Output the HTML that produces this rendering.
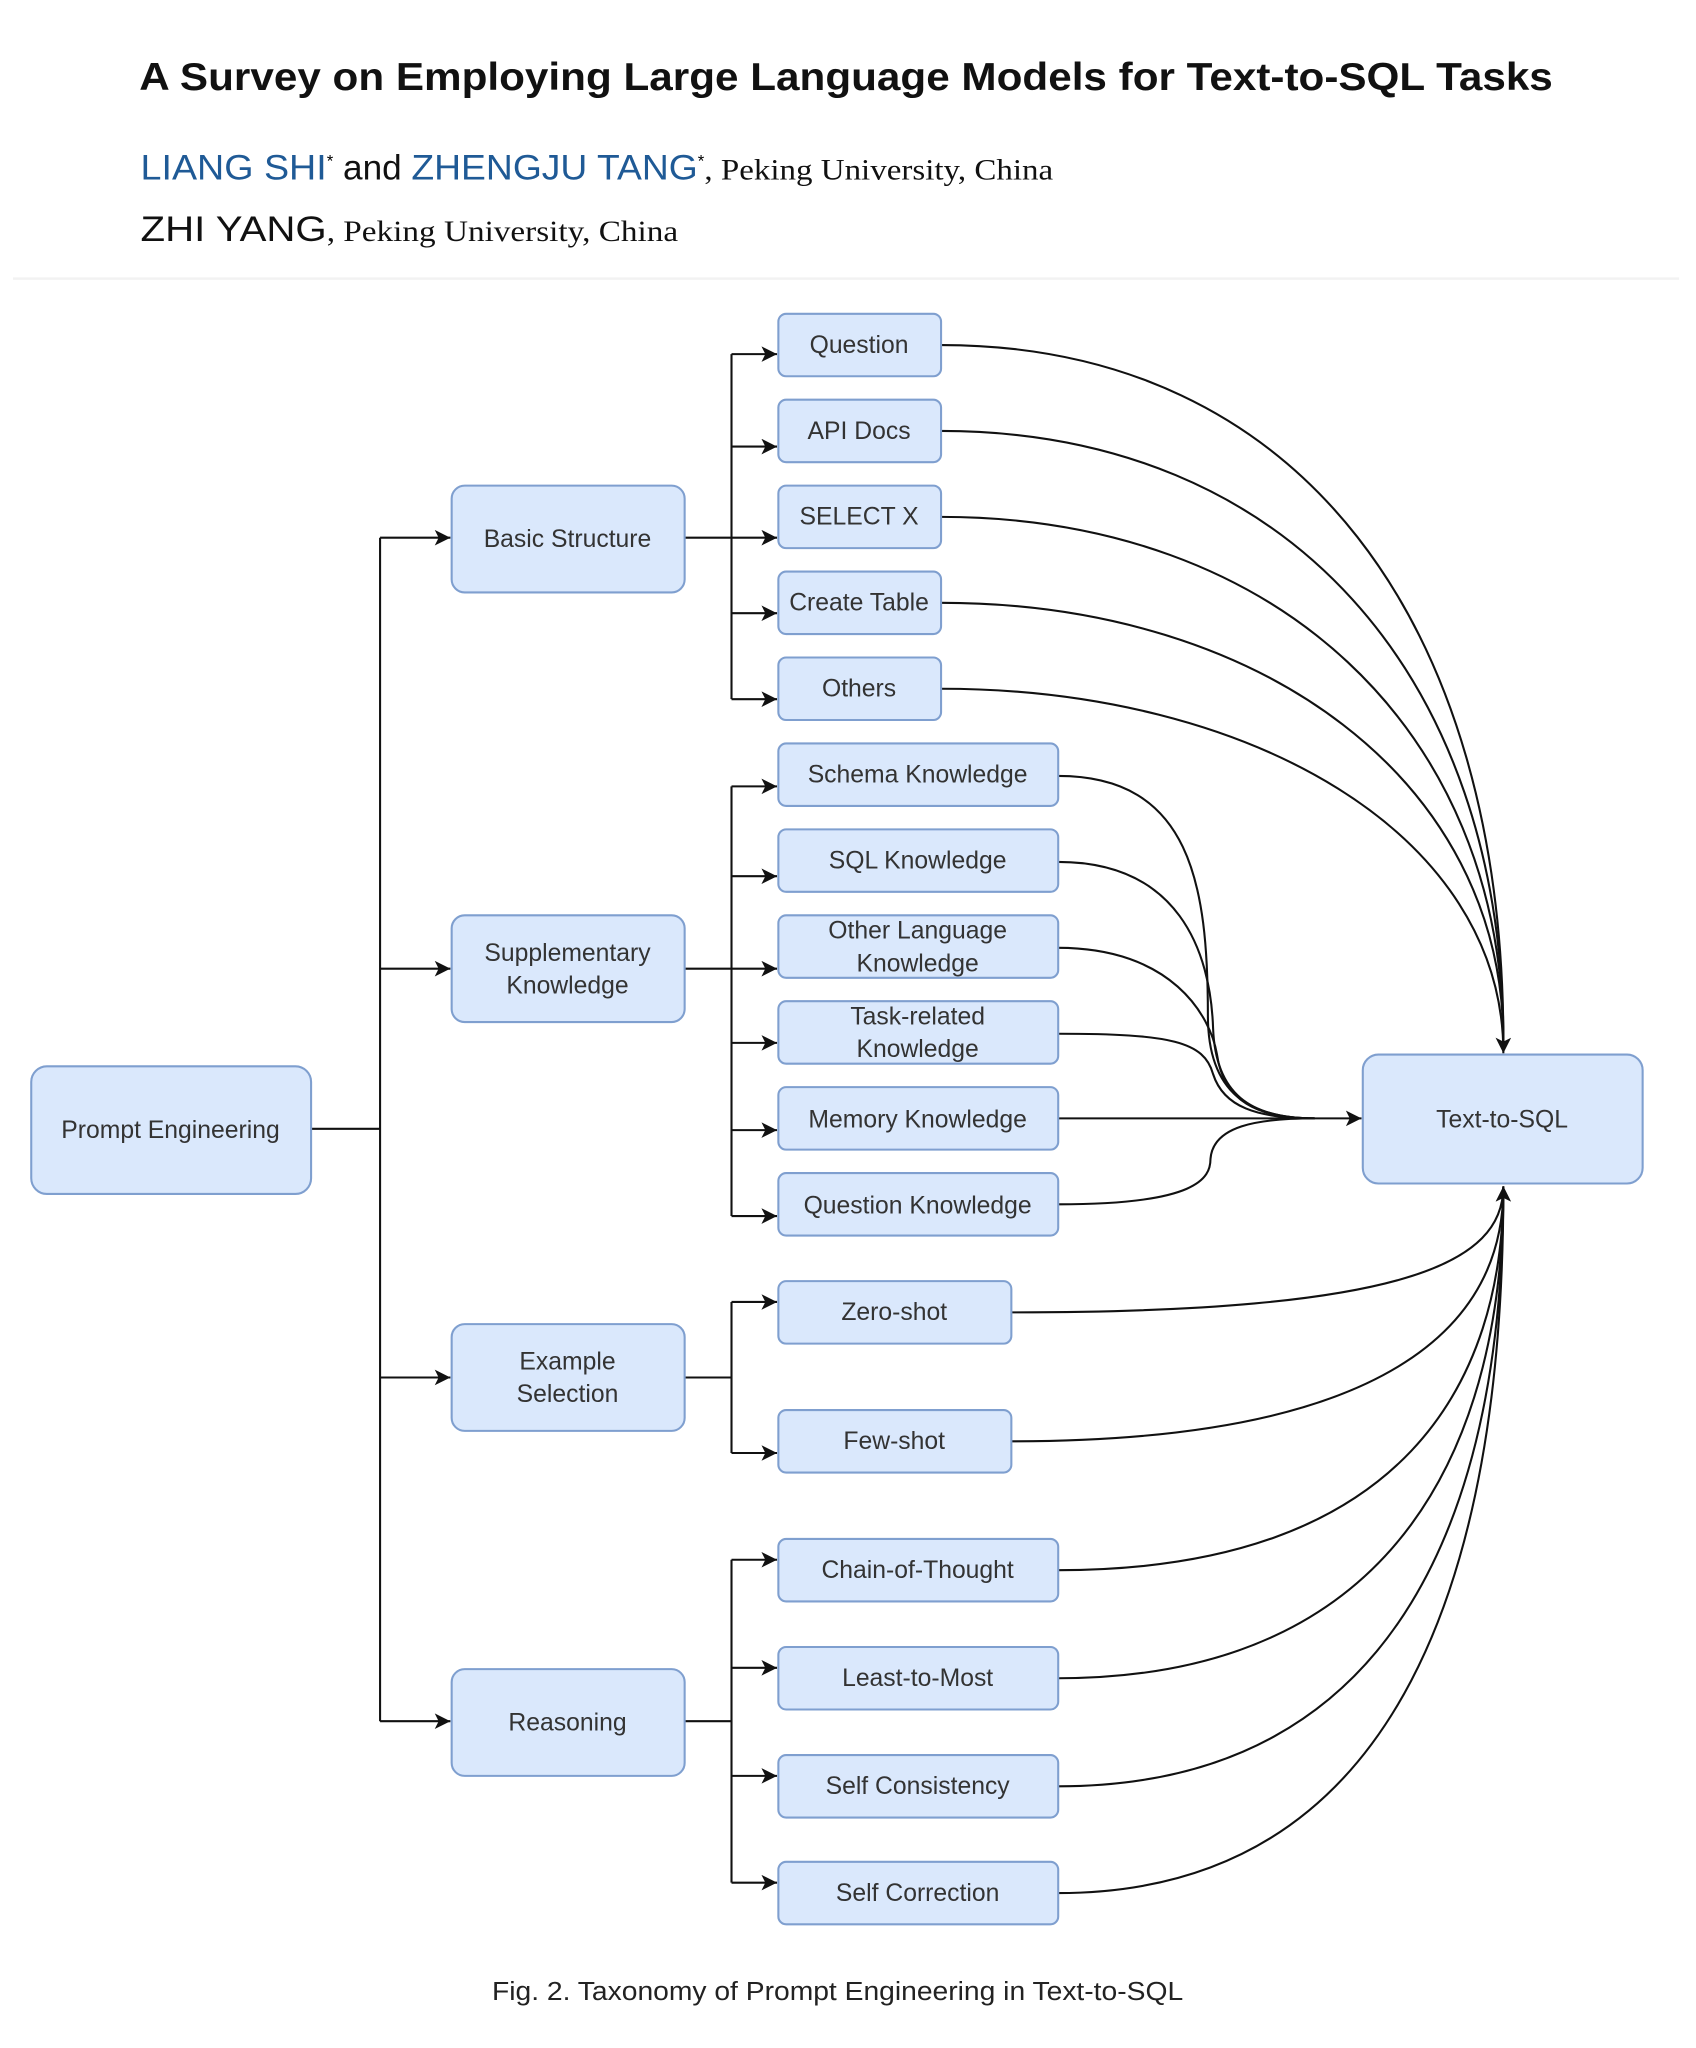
<!DOCTYPE html>
<html><head><meta charset="utf-8"><style>
html,body{margin:0;padding:0;background:#fff;}
svg{display:block;}
.b{fill:#dae8fc;stroke:#7f9fcf;stroke-width:1.6;}
.t{font-family:"Liberation Sans",sans-serif;font-size:19px;fill:#333;text-anchor:middle;}
.l{fill:none;stroke:#111;stroke-width:1.6;}
</style></head><body>
<svg width="1696" height="2048" viewBox="0 0 1303 1573" preserveAspectRatio="none" xmlns="http://www.w3.org/2000/svg">
<defs><marker id="a" markerWidth="14" markerHeight="14" refX="12" refY="6" orient="auto" markerUnits="userSpaceOnUse"><path d="M0,0 L12,6 L0,12 L3,6 z" fill="#111"/></marker></defs>
<text x="107" y="69" font-family="Liberation Sans,sans-serif" font-size="30" font-weight="bold" fill="#111" textLength="1086" lengthAdjust="spacingAndGlyphs">A Survey on Employing Large Language Models for Text-to-SQL Tasks</text>
<text x="108" y="138" font-family="Liberation Sans,sans-serif" font-size="27"><tspan fill="#1f5a96" textLength="143" lengthAdjust="spacingAndGlyphs">LIANG SHI</tspan><tspan font-size="13" dy="-10">*</tspan><tspan dy="10" fill="#111"> and </tspan><tspan fill="#1f5a96" textLength="220" lengthAdjust="spacingAndGlyphs">ZHENGJU TANG</tspan><tspan font-size="13" dy="-10">*</tspan><tspan dy="10" font-family="Liberation Serif,serif" font-size="23" fill="#111" textLength="268" lengthAdjust="spacingAndGlyphs">, Peking University, China</tspan></text>
<text x="108" y="185" font-family="Liberation Sans,sans-serif" font-size="27" fill="#111"><tspan textLength="143" lengthAdjust="spacingAndGlyphs">ZHI YANG</tspan><tspan font-family="Liberation Serif,serif" font-size="23" textLength="270" lengthAdjust="spacingAndGlyphs">, Peking University, China</tspan></text>
<line x1="10" y1="214" x2="1290" y2="214" stroke="#f2f2f2" stroke-width="2"/>

<path class="l" d="M239,867 H292 M292,413 V1322"/>
<path class="l" marker-end="url(#a)" d="M292,413 H346"/>
<path class="l" marker-end="url(#a)" d="M292,744 H346"/>
<path class="l" marker-end="url(#a)" d="M292,1058 H346"/>
<path class="l" marker-end="url(#a)" d="M292,1322 H346"/>
<path class="l" d="M526,413 H562 M562,272 V537 M526,744 H562 M562,604 V934 M526,1058 H562 M562,1000 V1116 M526,1322 H562 M562,1198 V1446"/>
<path class="l" marker-end="url(#a)" d="M562,272 H597"/>
<path class="l" marker-end="url(#a)" d="M562,343 H597"/>
<path class="l" marker-end="url(#a)" d="M562,413 H597"/>
<path class="l" marker-end="url(#a)" d="M562,471 H597"/>
<path class="l" marker-end="url(#a)" d="M562,537 H597"/>
<path class="l" marker-end="url(#a)" d="M562,604 H597"/>
<path class="l" marker-end="url(#a)" d="M562,673 H597"/>
<path class="l" marker-end="url(#a)" d="M562,744 H597"/>
<path class="l" marker-end="url(#a)" d="M562,801 H597"/>
<path class="l" marker-end="url(#a)" d="M562,868 H597"/>
<path class="l" marker-end="url(#a)" d="M562,934 H597"/>
<path class="l" marker-end="url(#a)" d="M562,1000 H597"/>
<path class="l" marker-end="url(#a)" d="M562,1116 H597"/>
<path class="l" marker-end="url(#a)" d="M562,1198 H597"/>
<path class="l" marker-end="url(#a)" d="M562,1281 H597"/>
<path class="l" marker-end="url(#a)" d="M562,1364 H597"/>
<path class="l" marker-end="url(#a)" d="M562,1446 H597"/>

<path class="l" d="M723,265 C1000,265 1155,480 1155,800"/>
<path class="l" d="M723,331 C990,331 1155,520 1155,800"/>
<path class="l" d="M723,397 C980,397 1155,560 1155,800"/>
<path class="l" d="M723,463 C970,463 1155,600 1155,800"/>
<path class="l" marker-end="url(#a)" d="M723,529 C960,529 1155,640 1155,809"/>

<path class="l" d="M813,596 C915,596 928,680 928,780 C928,840 960,859 1010,859"/>
<path class="l" d="M813,662 C905,662 930,730 932,790 C934,840 960,859 1010,859"/>
<path class="l" d="M813,728 C900,728 930,780 935,810 C940,845 965,859 1010,859"/>
<path class="l" d="M813,794 C900,794 925,800 932,825 C940,850 965,859 1010,859"/>
<path class="l" d="M813,925 C920,925 930,905 930,890 C932,865 965,859 1010,859"/>
<path class="l" marker-end="url(#a)" d="M813,859 H1046"/>

<path class="l" marker-end="url(#a)" d="M777,1008 C1080,1008 1155,970 1155,911"/>
<path class="l" d="M777,1107 C1080,1107 1155,1010 1155,912"/>
<path class="l" d="M813,1206 C1080,1206 1155,1060 1155,912"/>
<path class="l" d="M813,1289 C1080,1289 1155,1100 1155,912"/>
<path class="l" d="M813,1372 C1080,1372 1155,1150 1155,912"/>
<path class="l" d="M813,1454 C1080,1454 1155,1200 1155,912"/>

<rect class="b" x="24" y="819" width="215" height="98" rx="12"/><text class="t" x="131" y="874">Prompt Engineering</text>
<rect class="b" x="347" y="373" width="179" height="82" rx="10"/><text class="t" x="436" y="420">Basic Structure</text>
<rect class="b" x="347" y="703" width="179" height="82" rx="10"/><text class="t" x="436" y="738">Supplementary</text><text class="t" x="436" y="763">Knowledge</text>
<rect class="b" x="347" y="1017" width="179" height="82" rx="10"/><text class="t" x="436" y="1052">Example</text><text class="t" x="436" y="1077">Selection</text>
<rect class="b" x="347" y="1282" width="179" height="82" rx="10"/><text class="t" x="436" y="1329">Reasoning</text>
<rect class="b" x="1047" y="810" width="215" height="99" rx="12"/><text class="t" x="1154" y="866">Text-to-SQL</text>

<rect class="b" x="598" y="241" width="125" height="48" rx="6"/><text class="t" x="660" y="271">Question</text>
<rect class="b" x="598" y="307" width="125" height="48" rx="6"/><text class="t" x="660" y="337">API Docs</text>
<rect class="b" x="598" y="373" width="125" height="48" rx="6"/><text class="t" x="660" y="403">SELECT X</text>
<rect class="b" x="598" y="439" width="125" height="48" rx="6"/><text class="t" x="660" y="469">Create Table</text>
<rect class="b" x="598" y="505" width="125" height="48" rx="6"/><text class="t" x="660" y="535">Others</text>

<rect class="b" x="598" y="571" width="215" height="48" rx="6"/><text class="t" x="705" y="601">Schema Knowledge</text>
<rect class="b" x="598" y="637" width="215" height="48" rx="6"/><text class="t" x="705" y="667">SQL Knowledge</text>
<rect class="b" x="598" y="703" width="215" height="48" rx="6"/><text class="t" x="705" y="721">Other Language</text><text class="t" x="705" y="746">Knowledge</text>
<rect class="b" x="598" y="769" width="215" height="48" rx="6"/><text class="t" x="705" y="787">Task-related</text><text class="t" x="705" y="812">Knowledge</text>
<rect class="b" x="598" y="835" width="215" height="48" rx="6"/><text class="t" x="705" y="866">Memory Knowledge</text>
<rect class="b" x="598" y="901" width="215" height="48" rx="6"/><text class="t" x="705" y="932">Question Knowledge</text>

<rect class="b" x="598" y="984" width="179" height="48" rx="6"/><text class="t" x="687" y="1014">Zero-shot</text>
<rect class="b" x="598" y="1083" width="179" height="48" rx="6"/><text class="t" x="687" y="1113">Few-shot</text>

<rect class="b" x="598" y="1182" width="215" height="48" rx="6"/><text class="t" x="705" y="1212">Chain-of-Thought</text>
<rect class="b" x="598" y="1265" width="215" height="48" rx="6"/><text class="t" x="705" y="1295">Least-to-Most</text>
<rect class="b" x="598" y="1348" width="215" height="48" rx="6"/><text class="t" x="705" y="1378">Self Consistency</text>
<rect class="b" x="598" y="1430" width="215" height="48" rx="6"/><text class="t" x="705" y="1460">Self Correction</text>

<text x="378" y="1536" font-family="Liberation Sans,sans-serif" font-size="20" fill="#222" textLength="531" lengthAdjust="spacingAndGlyphs">Fig. 2.  Taxonomy of Prompt Engineering in Text-to-SQL</text>
</svg>
</body></html>
